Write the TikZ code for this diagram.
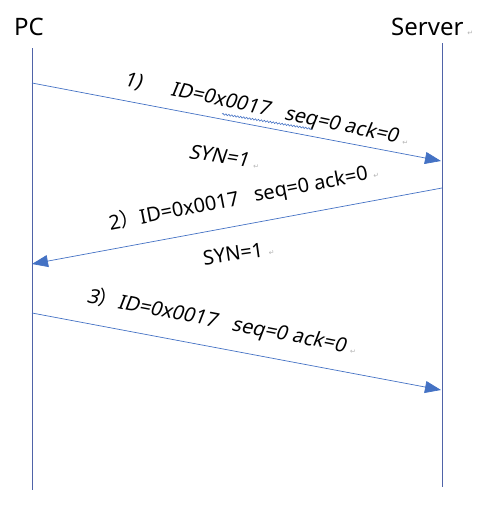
\documentclass[tikz,border=0pt]{standalone}
\usepackage{fontspec}
\setmainfont{Noto Sans}
\newfontfamily\slantfont[FakeSlant=0.18]{Noto Sans}
\newfontfamily\cjk{Noto Sans CJK SC}
\newfontfamily\symfont{DejaVu Sans}
\usetikzlibrary{arrows.meta,decorations.pathmorphing}
\definecolor{msgblue}{HTML}{4472C4}
\definecolor{lifeblue}{HTML}{4F63A8}
\newcommand\parmark{{\symfont\fontsize{7}{7}\selectfont\color{gray!60}↵}}
\tikzset{
  lifeline/.style={draw=lifeblue, line width=0.7pt},
  msg/.style={draw=msgblue, line width=0.7pt, -{Triangle[length=16pt,width=12pt]}},
  msgtext/.style={anchor=west, inner sep=0pt, font=\fontsize{20}{20}\selectfont},
  party/.style={inner sep=0pt, font=\fontsize{24}{24}\selectfont}
}
\begin{document}
\begin{tikzpicture}[x=1pt, y=-1pt]
  \useasboundingbox (0,0) rectangle (490,509);
  % the two parties and their lifelines
  \node[party] (pc) at (29,27) {PC};
  \node[party, anchor=west] (server) at (391,27) {Server\,\parmark};
  \coordinate (pctop) at (32,48);  \coordinate (pcbot) at (32,490);
  \coordinate (svtop) at (442,43); \coordinate (svbot) at (442,487);
  \draw[lifeline] (pctop) -- (pcbot);
  \draw[lifeline] (svtop) -- (svbot);
  % messages, y goes down
  \coordinate (m1a) at (32,83);   \coordinate (m1b) at (441,161);
  \coordinate (m2a) at (442,188); \coordinate (m2b) at (32,264);
  \coordinate (m3a) at (32,313);  \coordinate (m3b) at (441,390);
  \draw[msg] (m1a) -- (m1b);
  \draw[msg] (m2a) -- (m2b);
  \draw[msg] (m3a) -- (m3b);
  % labels
  \node[msgtext, rotate=-12] (l1) at (124,80) {\slantfont 1)\quad\ \ ID=0x0017\ \ \ seq=0 ack=0\ \parmark};
  \node[msgtext, rotate=-9] (s1) at (189,151) {\slantfont SYN=1\ \parmark};
  \node[msgtext, rotate=11] (l2) at (109,224) {2{\cjk ）}ID=0x0017\ \ \ seq=0 ack=0\ \parmark};
  \node[msgtext, rotate=8] (s2) at (203,258) {SYN=1\ \parmark};
  \node[msgtext, rotate=-11] (l3) at (87,296) {\slantfont 3{\cjk ）}ID=0x0017\ \ \ seq=0 ack=0\ \parmark};
  % spell check wave
  \coordinate (w1) at (222,114); \coordinate (w2) at (312,129);
  \draw[msgblue, line width=0.6pt, decorate, decoration={snake, segment length=3pt, amplitude=0.8pt}] (w1) -- (w2);
\end{tikzpicture}
\end{document}
